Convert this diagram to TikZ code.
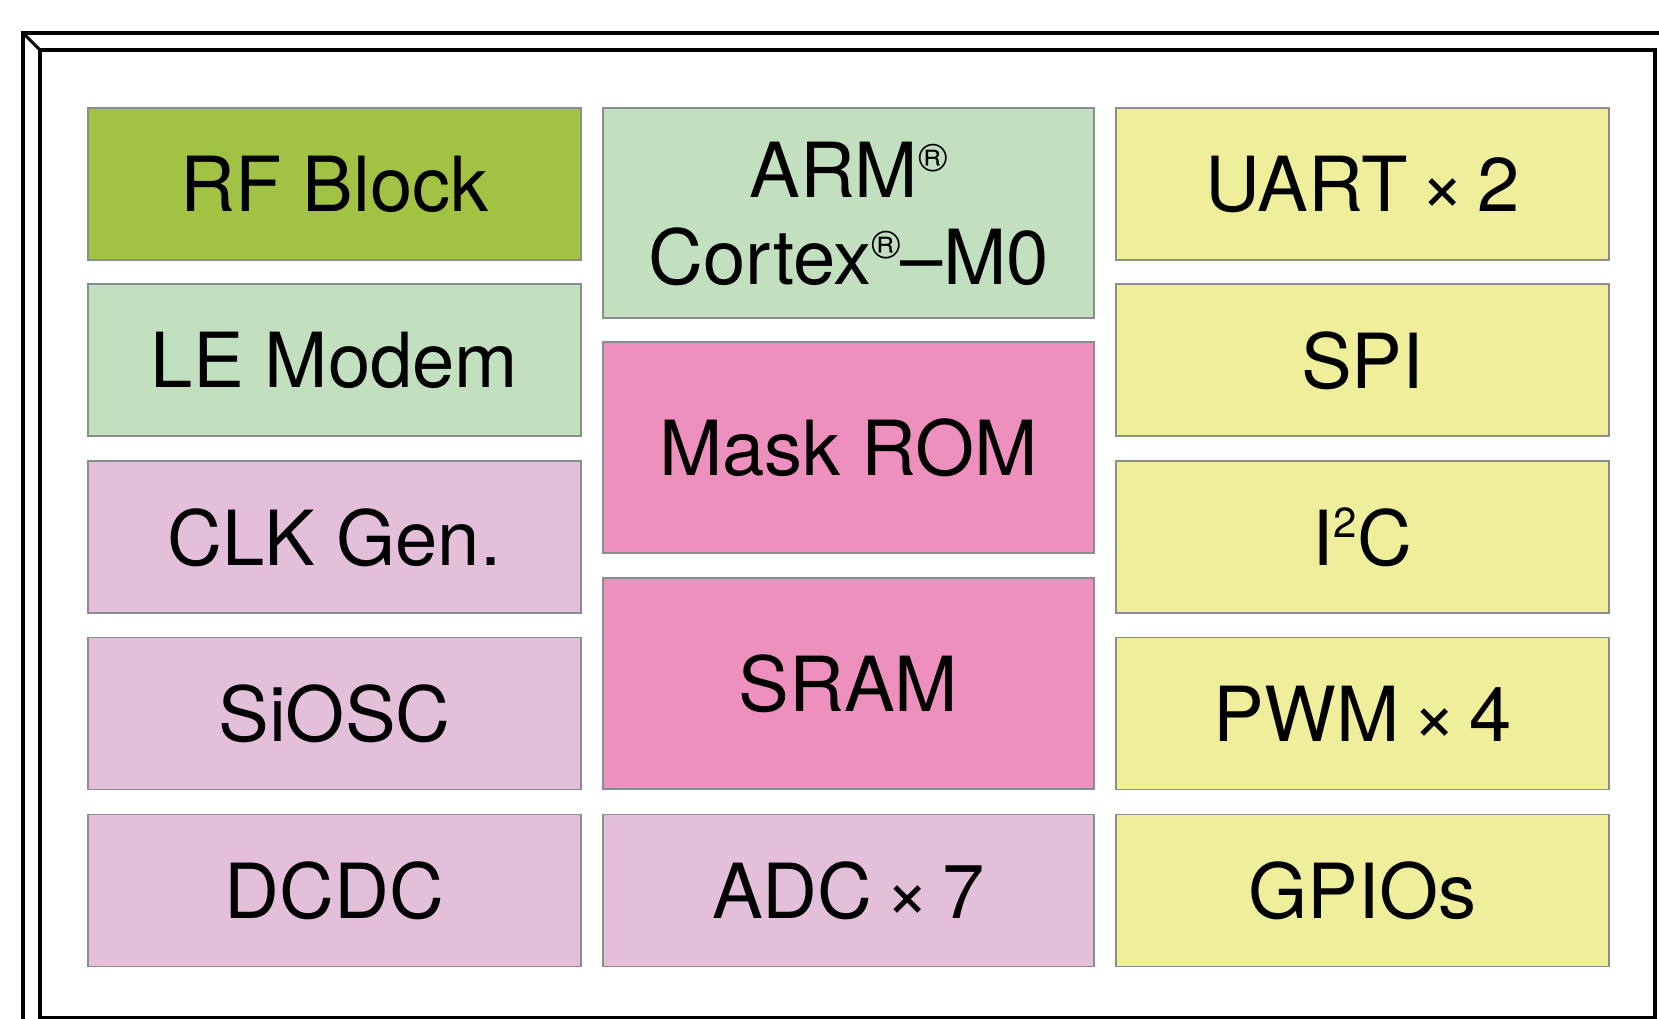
\documentclass[tikz,border=0pt]{standalone}
\usepackage{fontspec}
\setmainfont{TeX Gyre Heros}
\definecolor{rfgreen}{HTML}{A2C243}
\definecolor{ltgreen}{HTML}{C2E0C0}
\definecolor{ltpink}{HTML}{E3BFD9}
\definecolor{dkpink}{HTML}{EE90BE}
\definecolor{ylw}{HTML}{EFEE9A}
\definecolor{edge}{HTML}{8C8C8C}
\newcommand{\regsym}{\raisebox{26pt}{\fontsize{40}{40}\selectfont ®}}
\newcommand{\sqsym}{\raisebox{28pt}{\fontsize{42}{42}\selectfont 2}}
\tikzset{
  blk/.style={draw=edge, line width=1.6pt, inner sep=0pt, minimum width=493pt, minimum height=152pt,
    font=\fontsize{76}{87}\selectfont, align=center, text depth=0pt},
  frameline/.style={line width=4pt, line cap=rect, line join=miter}
}
\begin{document}
\begin{tikzpicture}[x=1pt,y=-1pt]
\useasboundingbox (0,0) rectangle (1659,1019);
\fill[white] (0,0) rectangle (1659,1019);
% frame
\coordinate (oc) at (23,33);
\coordinate (ic) at (40,50);
\draw[frameline] (23,1040) -- (oc) -- (1680,33);
\draw[frameline] (40,1018) -- (ic) -- (1655,50) -- (1655,1018) -- cycle;
\draw[line width=3pt] (oc) -- (ic);
% column 1
\node[blk, fill=rfgreen] (rf) at (334.5,184) {RF Block};
\node[blk, fill=ltgreen] (le) at (334.5,360) {LE Modem};
\node[blk, fill=ltpink] (clk) at (334.5,537) {CLK Gen.};
\node[blk, fill=ltpink] (siosc) at (334.5,713.5) {SiOSC};
\node[blk, fill=ltpink] (dcdc) at (334.5,890.5) {DCDC};
% column 2
\node[blk, fill=ltgreen, minimum width=491pt, minimum height=210pt] (arm) at (848.5,213) {ARM\regsym\\Cortex\regsym–M0};
\node[blk, fill=dkpink, minimum width=491pt, minimum height=211pt] (rom) at (848.5,447.5) {Mask ROM};
\node[blk, fill=dkpink, minimum width=491pt, minimum height=211pt] (sram) at (848.5,683.5) {SRAM};
\node[blk, fill=ltpink, minimum width=491pt] (adc) at (848.5,890.5) {ADC\,×\,7};
% column 3
\node[blk, fill=ylw] (uart) at (1362.5,184) {UART\,×\,2};
\node[blk, fill=ylw] (spi) at (1362.5,360) {SPI};
\node[blk, fill=ylw] (i2c) at (1362.5,537) {I\sqsym C};
\node[blk, fill=ylw] (pwm) at (1362.5,713.5) {PWM\,×\,4};
\node[blk, fill=ylw] (gpio) at (1362.5,890.5) {GPIOs};
\end{tikzpicture}
\end{document}
